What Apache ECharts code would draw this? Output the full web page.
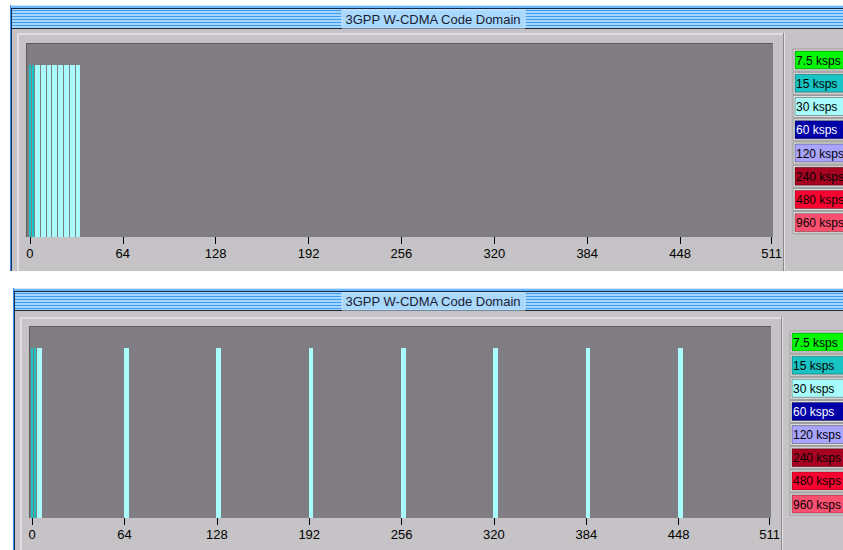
<!DOCTYPE html>
<html>
<head>
<meta charset="utf-8">
<script src="https://cdn.jsdelivr.net/npm/echarts@6/dist/echarts.min.js"></script>
<style>
html,body{margin:0;padding:0;background:#ffffff;}
#chart{width:843px;height:550px;}
</style>
</head>
<body>
<div id="chart"></div>
<script>
// ---------- data ----------
const titleText = '3GPP W-CDMA Code Domain';
const xTicks = [0, 64, 128, 192, 256, 320, 384, 448, 511];
const rateLabels = ['7.5 ksps', '15 ksps', '30 ksps', '60 ksps', '120 ksps', '240 ksps', '480 ksps', '960 ksps'];
const rateCodeSpan = [1, 2, 4, 8, 16, 32, 64, 128]; // codes occupied in the 512-code domain

// upper panel: channel start code, rate (index into rateLabels), relative power
const topCodes = [0, 2, 4, 8, 12, 16, 20, 24, 28, 32];
const topRates = [1, 1, 2, 2, 2, 2, 2, 2, 2, 2];
const topPower = [89, 89, 89, 89, 89, 89, 89, 89, 89, 89];

// lower panel
const bottomCodes = [0, 2, 4, 64, 128, 192, 256, 320, 384, 448];
const bottomRates = [1, 1, 2, 2, 2, 2, 2, 2, 2, 2];
const bottomPower = [89, 89, 89, 89, 89, 89, 89, 89, 89, 89];

// ---------- styles ----------
const rateColors = ['#00f800', '#18c4c4', '#a8fcfc', '#0000a8', '#a8a4ff', '#a80020', '#ff0030', '#ff5070'];
const rateTextColors = ['#000', '#000', '#000', '#fff', '#000', '#000', '#000', '#000'];
const FONT = '"Liberation Sans", Arial, sans-serif';

function buildData(codes, rates, power) {
  return codes.map((c, i) => [c, rateCodeSpan[rates[i]], power[i], rates[i]]);
}

function renderBar(params, api) {
  const code = api.value(0), span = api.value(1), power = api.value(2), r = api.value(3);
  const p0 = api.coord([code - 0.5, 0]);
  const p1 = api.coord([code - 0.5 + span, power]);
  const x0 = Math.round(p0[0]), x1 = Math.round(p1[0]);
  const yTop = Math.round(p1[1]), yBot = Math.round(p0[1]);
  return {
    type: 'rect',
    shape: { x: x0, y: yTop, width: Math.max(1, x1 - x0 - 1), height: yBot - yTop },
    style: { fill: rateColors[r] }
  };
}

// ---------- window chrome ----------
function chrome(w) {
  const g = [];
  const Z = -10;
  const R = 843;
  g.push({ type: 'rect', z: Z, shape: { x: w.left, y: w.top, width: R - w.left, height: 1 }, style: { fill: '#cfe6ff' } });
  g.push({ type: 'rect', z: Z, shape: { x: w.left, y: w.top + 1, width: R - w.left, height: 2 }, style: { fill: '#6cb6ff' } });
  g.push({ type: 'rect', z: Z, shape: { x: w.left, y: w.top + 3, width: R - w.left, height: 1 }, style: { fill: '#142848' } });
  const tb0 = w.top + 4, tb1 = w.titleBottom;
  g.push({ type: 'rect', z: Z, shape: { x: w.left, y: tb0, width: R - w.left, height: tb1 - tb0 }, style: { fill: '#a6d6ff' } });
  for (let y = tb0 + 1; y < tb1 - 1; y += 3) {
    g.push({ type: 'rect', z: Z, shape: { x: w.left, y: y, width: R - w.left, height: 1 }, style: { fill: '#3d9cf2' } });
  }
  g.push({ type: 'rect', z: Z, shape: { x: w.left, y: tb1, width: R - w.left, height: 1 }, style: { fill: '#1c2838' } });
  g.push({ type: 'rect', z: Z, shape: { x: w.left, y: tb1 + 1, width: R - w.left, height: w.bottom - tb1 - 1 }, style: { fill: '#c5c3c5' } });
  g.push({ type: 'rect', z: Z + 1, shape: { x: w.left, y: w.top, width: 1, height: w.bottom - w.top }, style: { fill: '#3a8cf0' } });
  g.push({ type: 'rect', z: Z + 1, shape: { x: w.left + 1, y: w.top + 3, width: 1, height: w.bottom - w.top - 3 }, style: { fill: '#1a3050' } });
  g.push({ type: 'rect', z: Z + 1, shape: { x: w.inL, y: w.inT, width: w.inR - w.inL, height: 2 }, style: { fill: '#dedede' } });
  g.push({ type: 'rect', z: Z + 1, shape: { x: w.inL, y: w.inT, width: 2, height: w.bottom - w.inT }, style: { fill: '#dedede' } });
  g.push({ type: 'rect', z: Z + 1, shape: { x: w.inR, y: w.inT, width: 1, height: w.bottom - w.inT }, style: { fill: '#8a888a' } });
  g.push({ type: 'rect', z: Z + 1, shape: { x: w.inR + 1, y: w.inT, width: 1, height: w.bottom - w.inT }, style: { fill: '#e4e4e4' } });
  g.push({ type: 'rect', z: 5, shape: { x: w.pL - 1, y: w.pT - 1, width: w.pR - w.pL + 1, height: 1 }, style: { fill: '#5c5c5c' } });
  g.push({ type: 'rect', z: 5, shape: { x: w.pL - 1, y: w.pT - 1, width: 1, height: w.pB - w.pT + 1 }, style: { fill: '#5c5c5c' } });
  g.push({ type: 'rect', z: 10, shape: { x: 342, y: tb0 + 1, width: 183, height: tb1 - tb0 - 1 }, style: { fill: '#a8d8ff', stroke: '#c8e6ff', lineWidth: 1 } });
  g.push({ type: 'text', z: 11, x: 433, y: (tb0 + tb1) / 2 + 0.5, style: { text: titleText, fill: '#1a1a30', font: '13px ' + FONT, align: 'center', verticalAlign: 'middle' } });
  rateLabels.forEach((lab, i) => {
    const y = w.legT + i * w.legStep;
    g.push({ type: 'rect', z: 10, shape: { x: w.legL, y: y, width: R - w.legL + 5, height: 22 }, style: { fill: '#e2e2e2', stroke: '#9a9a9a', lineWidth: 1 } });
    g.push({ type: 'rect', z: 11, shape: { x: w.legL + 2, y: y + 2, width: R - w.legL + 5, height: 18 }, style: { fill: rateColors[i], stroke: 'rgba(0,0,0,0.35)', lineWidth: 1 } });
    g.push({ type: 'text', z: 12, x: w.legL + 3, y: y + 11.5, style: { text: lab, fill: rateTextColors[i], font: '12px ' + FONT, align: 'left', verticalAlign: 'middle' } });
  });
  return g;
}

const topWin = { left: 10, top: 5, titleBottom: 28, bottom: 271, inL: 17, inT: 33, inR: 783,
  pL: 27, pT: 44, pR: 773, pB: 237, legL: 793, legT: 49, legStep: 23.25 };
const botWin = { left: 13, top: 288, titleBottom: 310, bottom: 550, inL: 20, inT: 317, inR: 781,
  pL: 30, pT: 327, pR: 771, pB: 518, legL: 790, legT: 331, legStep: 23.15 };

function xAxisCfg(idx, min, max) {
  return {
    type: 'value', gridIndex: idx, min: min, max: max,
    axisLine: { show: false },
    splitLine: { show: false },
    axisTick: { show: true, customValues: xTicks, length: 7, lineStyle: { color: '#000', width: 1 } },
    axisLabel: { show: true, customValues: xTicks, color: '#000', fontFamily: FONT, fontSize: 13, margin: 10 }
  };
}
function yAxisCfg(idx) {
  return { type: 'value', gridIndex: idx, min: 0, max: 100, show: false, splitLine: { show: false } };
}

const chart = echarts.init(document.getElementById('chart'), null, { renderer: 'svg', width: 843, height: 550 });
chart.setOption({
  animation: false,
  backgroundColor: '#ffffff',
  grid: [
    { left: topWin.pL, top: topWin.pT, width: topWin.pR - topWin.pL, height: topWin.pB - topWin.pT,
      show: true, backgroundColor: '#807e82', borderWidth: 0 },
    { left: botWin.pL, top: botWin.pT, width: botWin.pR - botWin.pL, height: botWin.pB - botWin.pT,
      show: true, backgroundColor: '#807e82', borderWidth: 0 }
  ],
  xAxis: [xAxisCfg(0, -2, 512), xAxisCfg(1, -1.5, 512)],
  yAxis: [yAxisCfg(0), yAxisCfg(1)],
  graphic: { elements: chrome(topWin).concat(chrome(botWin)) },
  series: [
    { type: 'custom', name: 'Code Domain (upper)', xAxisIndex: 0, yAxisIndex: 0, renderItem: renderBar,
      encode: { x: 0, y: 2 }, data: buildData(topCodes, topRates, topPower) },
    { type: 'custom', name: 'Code Domain (lower)', xAxisIndex: 1, yAxisIndex: 1, renderItem: renderBar,
      encode: { x: 0, y: 2 }, data: buildData(bottomCodes, bottomRates, bottomPower) }
  ]
});
</script>
</body>
</html>
